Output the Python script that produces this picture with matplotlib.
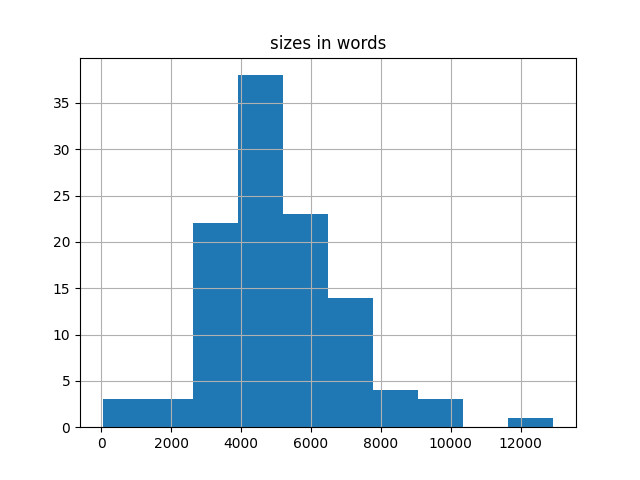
import numpy as np
import matplotlib
matplotlib.use("Agg")
import matplotlib.pyplot as plt

# histogram data: 10 equal bins between min and max word count
size_min = 30
size_max = 12940
counts = [3, 3, 22, 38, 23, 14, 4, 3, 0, 1]

edges = np.linspace(size_min, size_max, len(counts) + 1)
centers = (edges[:-1] + edges[1:]) / 2

fig, ax = plt.subplots(figsize=(6.4, 4.8), dpi=100)
ax.hist(centers, bins=edges, weights=counts, color="C0")
ax.grid(True)
ax.set_title("sizes in words")
fig.savefig("out.png")
